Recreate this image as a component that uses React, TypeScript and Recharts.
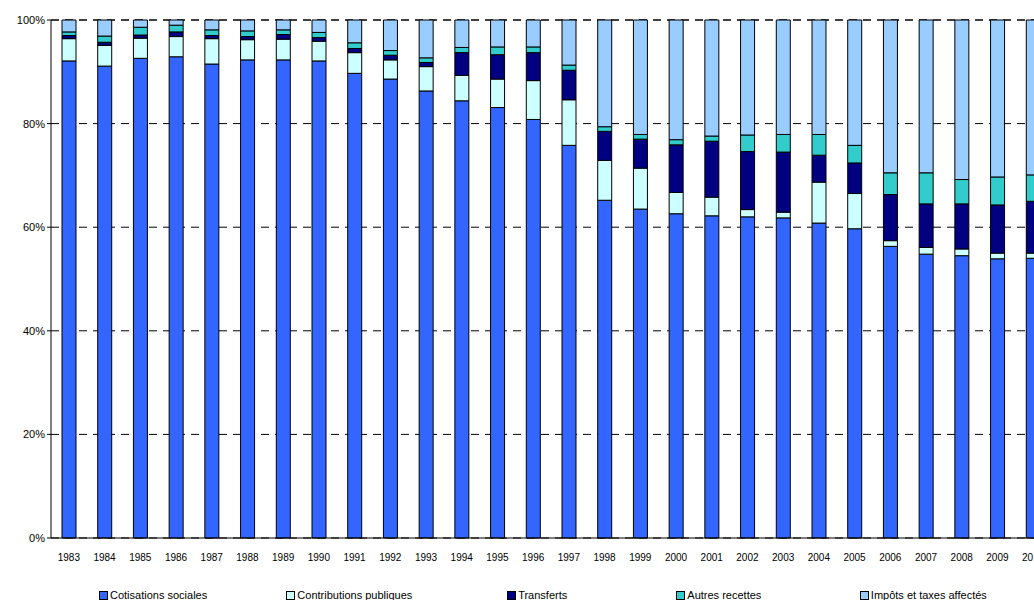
import { BarChart, Bar, XAxis, YAxis, CartesianGrid, Legend } from "recharts";

const years = ["1983","1984","1985","1986","1987","1988","1989","1990","1991","1992","1993","1994","1995","1996","1997","1998","1999","2000","2001","2002","2003","2004","2005","2006","2007","2008","2009","2010"];
const cotisations = [92.1,91.1,92.6,92.9,91.5,92.3,92.3,92.1,89.7,88.6,86.3,84.4,83.1,80.8,75.8,65.2,63.5,62.6,62.2,62.0,61.8,60.8,59.7,56.3,54.8,54.5,53.9,54.0];
const contributions = [4.3,4.0,3.9,3.9,4.9,3.9,4.0,3.8,4.0,3.7,4.7,4.9,5.5,7.5,8.8,7.7,7.9,4.1,3.6,1.4,1.1,7.9,6.8,1.1,1.3,1.3,1.1,1.0];
const transferts = [0.6,0.6,0.6,0.9,0.6,0.6,0.9,0.7,0.8,0.9,0.8,4.4,4.7,5.4,5.7,5.6,5.6,9.2,10.8,11.2,11.6,5.2,5.9,8.9,8.4,8.7,9.3,10.0];
const autres = [0.7,1.2,1.5,1.3,1.1,1.1,0.9,1.0,1.1,0.9,0.9,1.0,1.5,1.1,1.0,0.9,0.9,1.0,1.0,3.2,3.4,4.0,3.4,4.2,6.0,4.7,5.4,5.1];
const impots = [2.3,3.1,1.4,1.0,1.9,2.1,1.9,2.4,4.4,5.9,7.3,5.3,5.2,5.2,8.7,20.6,22.1,23.1,22.4,22.2,22.1,22.1,24.2,29.5,29.5,30.8,30.3,29.9];
const yTicks = [0, 20, 40, 60, 80, 100];

const series = [
  { key: "cot", name: "Cotisations sociales", color: "#3366FF", values: cotisations },
  { key: "contrib", name: "Contributions publiques", color: "#CCFFFF", values: contributions },
  { key: "transf", name: "Transferts", color: "#000080", values: transferts },
  { key: "autres", name: "Autres recettes", color: "#33CCCC", values: autres },
  { key: "imp", name: "Impôts et taxes affectés", color: "#99CCFF", values: impots },
];
// legend column widths, as laid out in the original
const legendWidths = [196, 231, 177, 192, 200];

const data = years.map((year, i) => {
  const row: any = { year };
  series.forEach((s) => (row[s.key] = s.values[i]));
  return row;
});

const renderLegend = () => (
  <div style={{ display: "flex", paddingLeft: 93, fontSize: 11, color: "#000" }}>
    {series.map((s, i) => (
      <div key={s.key} style={{ width: legendWidths[i], display: "flex", alignItems: "center" }}>
        <span style={{ width: 7, height: 7, background: s.color, border: "1px solid #000", marginRight: 2 }} />
        {s.name}
      </div>
    ))}
  </div>
);

export default function App() {
  return (
    <div style={{ position: "absolute", left: 0, top: 0, width: 1034, height: 600, overflow: "hidden", fontFamily: "Liberation Sans, Arial, sans-serif", background: "#fff" }}>
      <BarChart
        width={1100}
        height={600}
        data={data}
        margin={{ top: 20, right: 49, left: 6, bottom: 0 }}
        barSize={14}
      >
        <CartesianGrid vertical={false} stroke="#000" strokeDasharray="8 6" />
        <XAxis
          dataKey="year"
          interval={0}
          tickLine={false}
          axisLine={{ stroke: "#000" }}
          tick={{ fontSize: 10, fill: "#000" }}
          tickMargin={10}
          height={30}
        />
        <YAxis
          domain={[0, 100]}
          ticks={yTicks}
          tickFormatter={(v) => `${v}%`}
          width={45}
          axisLine={{ stroke: "#000" }}
          tickLine={{ stroke: "#000" }}
          tickSize={4}
          tick={{ fontSize: 11, fill: "#000" }}
        />
        <Legend content={renderLegend} verticalAlign="bottom" height={32} wrapperStyle={{ bottom: -21 }} />
        {series.map((s) => (
          <Bar
            key={s.key}
            dataKey={s.key}
            name={s.name}
            stackId="a"
            fill={s.color}
            stroke="#000"
            strokeWidth={1}
            isAnimationActive={false}
          />
        ))}
      </BarChart>
    </div>
  );
}
